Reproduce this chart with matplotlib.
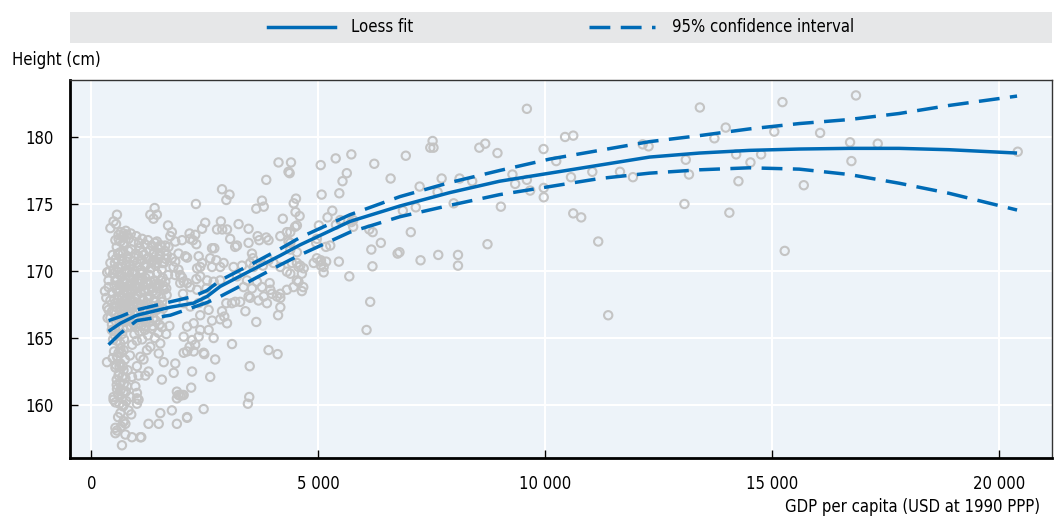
import matplotlib
matplotlib.use("Agg")
import matplotlib.pyplot as plt
from matplotlib.lines import Line2D
from matplotlib.ticker import FuncFormatter
import numpy as np

plt.rcParams['font.family'] = ['Liberation Sans Narrow', 'DejaVu Sans']
plt.rcParams['font.stretch'] = 'condensed'
plt.rcParams['font.size'] = 12

BLUE = '#006BB6'
GREY = '#C4C4C4'

# ---------- scatter data: (GDP per capita, height cm) ----------
pts_low_gdp = [
    (1395, 174.7), (1300, 174.2), (1445, 174.2), (1370, 173.9),
    (565, 174.2), (490, 173.7), (420, 173.2), (545, 173.5),
    (600, 172.7), (710, 172.8), (785, 172.7), (530, 172.3), (640, 172.2), (710, 172.1),
    (1690, 173.4), (1775, 172.9), (1740, 172.6), (1850, 172.2), (2000, 172.3),
    (1445, 172.2), (1520, 171.9), (1630, 171.9), (1370, 171.3), (1520, 171.2),
    (1665, 171.2), (1775, 170.95), (1920, 171.3), (1850, 170.7), (1810, 170.3),
    (1920, 170.1), (1850, 169.7), (2000, 169.5), (1960, 169.1),
    (380, 168.8), (420, 167.8), (380, 167.1), (420, 166.5), (455, 166.0),
    (360, 166.5), (455, 167.0), (345, 163.2),
    (300, 168.5), (330, 168.0), (350, 167.3), (380, 169.3), (400, 170.0), (420, 170.6), (350, 169.9),
    (490, 160.4), (530, 160.2), (640, 159.4), (565, 158.1), (530, 157.9), (675, 157.0),
    (750, 158.6), (710, 158.8), (895, 157.6), (1080, 157.6),
    (880, 159.3), (1005, 160.1), (1040, 160.4), (860, 160.6), (1005, 160.9),
    (1260, 158.6), (1485, 158.6), (1520, 159.4), (1775, 159.6), (1885, 158.6), (2110, 159.1),
    (1885, 161.0), (1960, 160.7), (1815, 162.4),
    (640, 164.6), (710, 164.1), (565, 163.6), (640, 163.1), (710, 162.6), (600, 162.2),
    (750, 162.0), (640, 161.6), (785, 161.4), (565, 161.2), (710, 161.0), (490, 160.6),
    (970, 161.4), (895, 162.1), (1005, 162.9), (1150, 163.4), (1225, 164.1), (1080, 163.6),
    (1300, 164.35), (1520, 164.6), (1485, 163.85),
    (710, 158.75), (530, 158.3), (750, 157.8), (1100, 157.6),
    (1920, 160.75), (1885, 160.5), (2035, 160.75), (1555, 161.9),
    (1850, 163.1), (1595, 163.2), (1260, 162.5), (1040, 162.2), (1190, 162.2),
    (1005, 160.5), (820, 159.6), (710, 160.0), (600, 160.75),
    (540, 163.0), (600, 163.9), (620, 162.9), (680, 162.1), (560, 161.5), (620, 160.1),
    (700, 159.9), (660, 158.4), (590, 159.1), (770, 160.3), (520, 165.6), (480, 164.9),
    (470, 163.5),
]

pts_cluster = [
    (470, 171.2), (520, 170.6), (560, 171.8), (600, 170.2), (640, 171.4), (680, 170.9),
    (720, 171.9), (760, 170.4), (800, 171.1), (840, 170.0), (880, 171.6), (930, 170.7),
    (980, 171.3), (1020, 170.3), (1070, 171.7), (1110, 170.8), (1160, 171.2), (1210, 170.5),
    (1260, 171.0), (1310, 170.2), (1360, 170.8), (1420, 170.4), (1480, 170.9), (1550, 170.1),
    (1600, 170.6),
    (480, 169.8), (530, 169.3), (580, 169.9), (620, 169.0), (670, 169.6), (710, 168.8),
    (750, 169.4), (790, 169.9), (830, 168.9), (870, 169.5), (910, 169.1), (960, 169.8),
    (1000, 168.7), (1050, 169.4), (1100, 169.9), (1140, 168.9), (1190, 169.5), (1240, 169.1),
    (1290, 169.7), (1340, 168.8), (1390, 169.3), (1450, 169.8), (1510, 169.0), (1570, 169.5),
    (1630, 169.2), (1690, 169.7),
    (460, 168.4), (510, 167.9), (560, 168.6), (610, 168.1), (650, 167.6), (700, 168.3),
    (740, 167.8), (780, 168.5), (820, 167.4), (860, 168.0), (900, 168.6), (950, 167.7),
    (990, 168.2), (1040, 167.5), (1080, 168.4), (1130, 167.9), (1180, 168.5), (1230, 167.6),
    (1280, 168.1), (1330, 168.7), (1380, 167.8), (1430, 168.3), (1490, 167.5), (1540, 168.0),
    (1600, 168.6), (1660, 168.2),
    (500, 166.9), (550, 167.3), (590, 166.6), (630, 167.1), (690, 166.8), (730, 167.4),
    (770, 166.5), (810, 167.0), (850, 166.7), (890, 167.2), (940, 166.4), (1010, 166.9),
    (1060, 167.2), (1120, 166.6), (1170, 167.0), (1220, 166.4), (1300, 166.9), (1370, 166.5),
    (1440, 167.1), (1520, 166.7), (1580, 167.2),
    (600, 172.4), (650, 172.9), (700, 172.6), (760, 173.0), (820, 172.4), (870, 172.8),
    (930, 172.2), (990, 172.6), (1050, 172.1), (1120, 172.4), (1180, 172.0), (1250, 172.3),
    (1330, 171.9), (1400, 172.1), (1470, 171.7), (1540, 171.9), (1620, 171.5), (1700, 171.8),
    (450, 165.6), (520, 165.2), (600, 165.8), (680, 165.3), (560, 164.8), (640, 164.2),
    (720, 164.9), (500, 164.0), (580, 163.6), (660, 163.9), (740, 163.4), (530, 162.8),
    (610, 162.4), (690, 162.9), (560, 161.9), (640, 161.1), (720, 161.6), (590, 160.8),
    (670, 160.5), (760, 161.0), (800, 162.6), (850, 163.7), (900, 164.5), (950, 165.3),
    (1000, 164.8), (1060, 165.5), (1120, 164.9), (1180, 165.6), (1250, 165.2), (1330, 165.7),
    (1400, 165.0), (1480, 165.4), (1560, 165.8), (1650, 165.3), (1720, 165.9),
]

pts_cluster_fill = [
    (490, 170.1), (540, 170.9), (590, 171.3), (630, 169.7), (660, 170.5), (700, 171.3),
    (740, 170.0), (780, 170.7), (820, 171.5), (860, 170.4), (900, 169.9), (950, 171.0),
    (1000, 170.6), (1040, 171.1), (1090, 170.1), (1130, 171.4), (1180, 170.3), (1230, 170.9),
    (1280, 171.5), (1330, 170.6), (1390, 171.4), (1440, 170.6), (1500, 171.3), (1560, 170.6),
    (1640, 170.9),
    (510, 168.9), (570, 169.4), (600, 168.5), (650, 168.9), (690, 169.2), (730, 168.6),
    (770, 169.1), (810, 168.3), (850, 169.0), (890, 168.4), (930, 169.4), (970, 168.9),
    (1020, 169.1), (1070, 168.8), (1120, 169.3), (1160, 168.6), (1210, 169.2), (1260, 168.6),
    (1310, 169.2), (1360, 168.5), (1410, 169.0), (1470, 168.7), (1530, 169.3), (1590, 168.9),
    (1650, 168.7),
    (530, 167.6), (580, 167.9), (620, 167.5), (670, 168.0), (720, 167.2), (760, 167.9),
    (800, 167.6), (840, 167.3), (880, 167.8), (920, 167.4), (970, 168.0), (1010, 167.6),
    (1100, 167.5), (1150, 167.8), (1200, 167.2), (1250, 167.9), (1350, 167.4), (1410, 167.7),
    (1470, 167.3), (1560, 167.7),
    (550, 166.2), (610, 165.9), (660, 166.5), (700, 165.7), (750, 166.2), (790, 165.8),
    (830, 166.3), (870, 165.9), (920, 166.1), (980, 165.8), (1040, 166.1), (1100, 165.9),
    (1150, 166.3), (1200, 165.9), (1280, 166.2), (1350, 165.9), (1420, 166.3), (1500, 166.0),
]

pts_mid_gdp = [
    (2035, 167.6), (2180, 167.35), (2365, 167.6), (2510, 167.8), (2585, 167.1), (2660, 166.3),
    (2400, 166.7), (2255, 166.1), (2110, 165.85), (2400, 165.6), (2585, 165.6), (2695, 165.0),
    (2365, 165.1), (2220, 164.85), (2035, 165.1), (2110, 164.0), (2255, 164.0), (2035, 163.9),
    (2475, 163.9), (2290, 164.5), (2165, 164.35),
    (3100, 164.55), (3905, 164.1), (4105, 163.8), (3490, 162.9), (2730, 163.4), (2490, 163.8),
    (2220, 162.5), (2620, 162.1), (2200, 161.3), (2000, 160.75), (3480, 160.6), (3450, 160.1),
    (2475, 159.7), (2110, 159.05),
    (3500, 168.0), (3685, 167.8), (3870, 167.6), (3980, 168.3), (4165, 168.0), (4165, 167.3),
    (4115, 166.7), (3395, 167.0), (3635, 166.2), (2990, 166.1), (2880, 167.0), (2930, 166.6),
    (2840, 166.4), (3170, 167.7), (3280, 167.7), (3100, 167.6), (2975, 167.6),
    (1960, 169.7), (2035, 169.2), (2110, 169.1), (2315, 169.4), (2400, 169.6), (2550, 169.3),
    (2695, 169.2), (2840, 169.3), (2535, 168.7), (2330, 168.6), (2180, 168.8), (2020, 168.3),
    (3210, 169.6), (3430, 169.3), (3355, 168.8), (3650, 169.2), (3540, 168.7), (3760, 168.8),
    (3930, 169.1), (3945, 168.6), (4090, 168.1), (3800, 168.1), (3465, 168.1),
    (4385, 169.8), (4530, 170.6), (4455, 168.8), (4565, 169.2), (4165, 168.3), (4310, 168.6),
    (2070, 171.1), (2110, 171.0), (2365, 171.1), (2620, 170.95), (2755, 170.8), (2915, 170.6),
    (2840, 170.3), (2660, 170.3), (2440, 170.6), (2400, 170.3), (2330, 170.2),
    (3135, 170.3), (3320, 170.4), (3540, 171.3), (3560, 170.95), (3500, 170.6), (3575, 170.3),
    (3780, 170.4), (3905, 170.8), (4015, 170.6), (4165, 170.3), (4310, 169.95), (4565, 170.3),
    (4420, 170.6),
    (2165, 172.8), (2290, 172.7), (2180, 172.4), (2240, 172.3), (2315, 172.0), (3060, 172.4),
    (3210, 171.9), (3170, 171.8), (3665, 172.6), (3700, 172.3), (3855, 172.5), (3905, 172.3),
    (3465, 172.1), (2660, 171.7), (2710, 171.7), (4165, 172.6), (4310, 172.9), (4345, 172.2),
    (2510, 173.6), (2440, 173.15), (2855, 173.7), (2770, 173.1), (2885, 173.1), (2990, 173.1),
    (3245, 173.5), (3465, 173.15),
    (2880, 176.1), (3045, 175.7), (2975, 175.3), (2305, 175.0), (3760, 175.25), (3800, 174.8),
    (3635, 174.65), (4220, 173.9), (3855, 176.8),
    (4125, 178.1), (4400, 178.1), (4345, 177.4), (4370, 177.3),
    (4460, 175.05), (4510, 175.4), (4500, 174.4), (4590, 174.1), (4530, 173.4), (4490, 173.3),
    (4385, 172.9), (4970, 172.4), (4955, 172.1), (4385, 172.1), (4385, 171.6), (4530, 171.4),
    (4970, 170.95), (5060, 170.8), (5120, 170.3), (4604, 170.4), (4680, 170.2), (4640, 169.8),
    (4530, 169.3), (4670, 168.8), (4640, 168.5),
]

pts_upper_gdp = [
    (5055, 177.9), (5730, 178.7), (5630, 177.3), (5535, 176.7), (5465, 175.8), (5385, 178.4),
    (5075, 175.7), (5310, 174.5), (5205, 174.0), (5770, 173.8), (5730, 173.65), (5770, 173.3),
    (5390, 173.45), (5485, 173.8), (5685, 169.6), (5175, 170.7), (5045, 170.7), (4900, 170.6),
    (5455, 170.7), (5120, 169.9), (5060, 170.4), (5265, 171.9), (5170, 171.8), (5015, 173.4),
    (6930, 178.6), (6865, 174.5), (6750, 171.3), (6790, 171.4), (6595, 176.9), (6380, 172.1),
    (6235, 178.0), (6195, 170.35), (6170, 171.6), (6200, 172.9), (6125, 173.1), (6145, 167.7),
    (6065, 165.6),
    (7235, 176.3), (7150, 174.75), (7040, 172.9), (7255, 170.8), (7520, 179.7), (7470, 179.2),
    (7540, 179.2), (7720, 176.9), (7630, 175.9), (7645, 171.2), (7985, 175.05), (8080, 171.2),
    (8080, 170.4), (8115, 176.9), (8393, 176.7), (8680, 179.5), (8550, 179.2), (8730, 172.0),
    (8950, 178.8), (9025, 174.8), (9280, 177.2), (9340, 176.5), (9598, 176.8), (9670, 176.0),
    (9598, 182.1), (9965, 179.1), (9970, 176.2), (9970, 175.5),
    (10245, 178.2), (10440, 180.0), (10620, 180.1), (10570, 177.0), (10620, 174.3),
    (10795, 174.0), (11040, 177.4), (11170, 172.2), (11390, 166.7), (11650, 177.4), (11935, 177.0),
]

pts_high_gdp = [
    (12150, 179.45), (12280, 179.3), (13070, 175.0), (13100, 178.3), (13170, 177.2),
    (13410, 182.2), (13730, 179.9), (13980, 180.7), (14060, 174.35), (14210, 178.7),
    (14260, 176.7), (14525, 178.1), (14760, 178.7), (15050, 180.4), (15230, 182.6),
    (15280, 171.5), (15700, 176.4), (16060, 180.3), (16720, 179.6), (16750, 178.2),
    (16850, 183.1), (17330, 179.5), (20415, 178.9),
]

# ---------- loess fit and confidence band ----------
fit_x = [380, 640, 1000, 1740, 2250, 2550, 2840, 3580, 4160, 4600, 5700, 6800, 7900, 9000,
         10100, 11200, 12300, 13400, 14500, 15600, 16700, 17800, 18900, 20400]
fit_y = [165.5, 166.1, 166.7, 167.3, 167.6, 168.1, 168.85, 170.15, 171.15, 171.95, 173.7, 174.85,
         175.85, 176.7, 177.3, 177.9, 178.5, 178.8, 179.0, 179.1, 179.15, 179.15, 179.05, 178.8]
ci_hi = [166.3, 166.6, 167.1, 167.7, 168.1, 168.55, 169.3, 170.6, 171.65, 172.5, 174.2, 175.55,
         176.6, 177.5, 178.35, 179.0, 179.65, 180.1, 180.6, 181.0, 181.3, 181.75, 182.35, 183.05]
ci_lo = [164.5, 165.35, 166.3, 166.7, 167.3, 167.65, 168.1, 169.4, 170.45, 171.2, 172.9, 174.05,
         174.9, 175.7, 176.3, 176.9, 177.3, 177.55, 177.7, 177.6, 177.2, 176.55, 175.8, 174.55]

y_ticks = [160, 165, 170, 175, 180]
x_ticks = [0, 5000, 10000, 15000, 20000]

all_pts = pts_low_gdp + pts_cluster + pts_cluster_fill + pts_mid_gdp + pts_upper_gdp + pts_high_gdp
gdp = np.array([p[0] for p in all_pts])
height = np.array([p[1] for p in all_pts])

fig = plt.figure(figsize=(10.56, 5.19), dpi=100)
ax = fig.add_axes([70 / 1056, 1 - 458 / 519, 982 / 1056, 378 / 519])
ax.set_facecolor('#EDF3F9')

ax.scatter(gdp, height, s=36, facecolors='none', edgecolors=GREY, linewidths=1.5, zorder=2)
ax.plot(fit_x, fit_y, color=BLUE, lw=2.5, zorder=3, solid_capstyle='butt')
ax.plot(fit_x, ci_hi, color=BLUE, lw=2.5, dashes=(6, 3), zorder=3)
ax.plot(fit_x, ci_lo, color=BLUE, lw=2.5, dashes=(6, 3), zorder=3)

ax.set_xlim(-470, 21170)
ax.set_ylim(156.05, 184.25)
ax.set_xticks(x_ticks)
ax.set_yticks(y_ticks)
ax.xaxis.set_major_formatter(FuncFormatter(lambda v, p: f"{int(v):,}".replace(",", " ")))
ax.grid(True, color='white', lw=1.5, zorder=1)
ax.set_axisbelow(True)
ax.tick_params(direction='in', length=6, width=1, pad=12, labelsize=12, colors='black')

for side in ['left', 'bottom']:
    ax.spines[side].set_linewidth(2)
    ax.spines[side].set_color('black')
for side in ['top', 'right']:
    ax.spines[side].set_linewidth(1)
    ax.spines[side].set_color('#333333')

fig.text(12 / 1056, 1 - 60 / 519, 'Height (cm)', ha='left', va='center', fontsize=12)
fig.text(1040 / 1056, 1 - 507 / 519, 'GDP per capita (USD at 1990 PPP)',
         ha='right', va='center', fontsize=12)

# legend strip
lax = fig.add_axes([70 / 1056, 1 - 43 / 519, 982 / 1056, 31 / 519])
lax.set_facecolor('#E6E7E8')
lax.set_xticks([])
lax.set_yticks([])
for s in lax.spines.values():
    s.set_visible(False)
handles = [Line2D([], [], color=BLUE, lw=2.5),
           Line2D([], [], color=BLUE, lw=2.5, dashes=(6, 3))]
lax.legend(handles, ['Loess fit', '95% confidence interval'], loc='center', ncol=2,
           frameon=False, handlelength=4, handletextpad=1.0, columnspacing=10.5, fontsize=12)

fig.savefig('out.png', dpi=100)
